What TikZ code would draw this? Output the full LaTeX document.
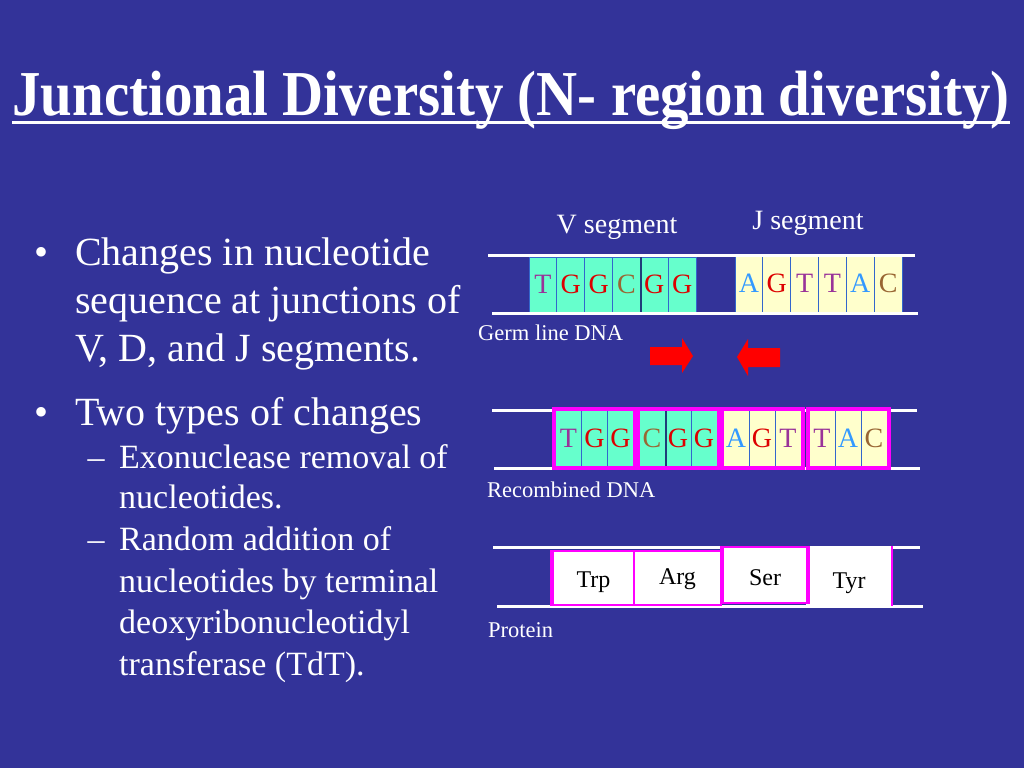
\documentclass[tikz,border=0pt]{standalone}
\usepackage{graphicx}
\usepackage{fontspec}
\setmainfont{Liberation Serif}
\usetikzlibrary{fit}
\definecolor{slideblue}{HTML}{333399}
\definecolor{vcell}{HTML}{66FFCC}
\definecolor{jcell}{HTML}{FFFFCC}
\definecolor{celledge}{HTML}{3366CC}
\definecolor{baseT}{HTML}{993399}
\definecolor{baseG}{HTML}{DD0000}
\definecolor{baseC}{HTML}{996633}
\definecolor{baseA}{HTML}{3399FF}
\definecolor{pinkframe}{HTML}{FF00FF}
\tikzset{
  strand/.style={white, line width=3pt},
  nuc/.style={draw=celledge, line width=1pt, inner sep=0pt, minimum width=27.8pt,
    minimum height=55pt, font=\fontsize{28}{30}\selectfont},
  frame/.style={draw=pinkframe, line width=4pt, inner sep=1pt},
  protbox/.style={fill=white, draw=pinkframe, line width=1.5pt, inner sep=0pt,
    text=black, text depth=0pt, font=\fontsize{24}{28}\selectfont},
  seglabel/.style={anchor=base, inner sep=0pt, text=white, font=\fontsize{28}{32}\selectfont},
  dnalabel/.style={anchor=base west, inner sep=0pt, text=white, font=\fontsize{22.5}{26}\selectfont},
  bodytext/.style={anchor=base west, inner sep=0pt, text=white, font=\fontsize{40}{48}\selectfont},
  subtext/.style={anchor=base west, inner sep=0pt, text=white, font=\fontsize{34}{41}\selectfont}
}
\begin{document}
\begin{tikzpicture}[x=1pt, y=-1pt]
   \fill[slideblue] (0,0) rectangle (1024,768);
   \useasboundingbox (0,0) rectangle (1024,768);
   % title
   \node[anchor=base, inner sep=0pt, text=white] (title) at (511,115)
      {\resizebox{997pt}{\height}{\fontsize{64}{70}\selectfont\bfseries Junctional Diversity (N- region diversity)}};
   \draw[strand] ([yshift=-7pt]title.base west) -- ([yshift=-7pt]title.base east);
   % bullets
   \foreach \y/\t [count=\i] in {265/Changes in nucleotide, 313/sequence at junctions of,
      361/{V, D, and J segments.}, 425/Two types of changes}
      \node[bodytext] (b\i) at (75,\y) {\t};
   \node[bodytext, anchor=base] (dot1) at (42,265) {•};
   \node[bodytext, anchor=base] (dot2) at (42,425) {•};
   \foreach \y/\t [count=\i] in {468/Exonuclease removal of, 508/nucleotides., 550/Random addition of,
      592/nucleotides by terminal, 633/deoxyribonucleotidyl, 675/transferase (TdT).}
      \node[subtext] (s\i) at (119,\y) {\t};
   \node[subtext, anchor=base] (dash1) at (96,468) {–};
   \node[subtext, anchor=base] (dash2) at (96,550) {–};
   % germ line DNA
   \node[seglabel] (vseg) at (617,233) {V segment};
   \node[seglabel] (jseg) at (808,229) {J segment};
   \foreach \b [count=\i] in {T,G,G,C,G,G}
      \node[nuc, fill=vcell, text=base\b] (v\i) at ({543+27.83*(\i-1)},284.5) {\b};
   \foreach \b [count=\i] in {A,G,T,T,A,C}
      \node[nuc, fill=jcell, text=base\b, minimum height=58pt] (j\i) at ({749+27.83*(\i-1)},283) {\b};
   \draw[celledge!60!black, line width=2pt] (v4.north east) -- (v4.south east);
   \draw[strand] (488,255) -- (915,255);
   \draw[strand] (492,313) -- (918,313);
   \node[dnalabel] (germ) at (478,340) {Germ line DNA};
   \fill[red] (650,347) -- (682,347) -- (682,338) -- (693,356) -- (682,373) -- (682,365) -- (650,365) -- cycle;
   \fill[red] (780,348) -- (748,348) -- (748,339) -- (737,357) -- (748,376) -- (748,367) -- (780,367) -- cycle;
   % recombined DNA
   \draw[strand] (492,410) -- (917,410);
   \draw[strand] (494,468) -- (920,468);
   \foreach \b/\x/\c [count=\i] in {T/568.5/vcell, G/594.5/vcell, G/620.5/vcell, C/652/vcell,
      G/678/vcell, G/704/vcell, A/736/jcell, G/762/jcell, T/788/jcell,
      T/822/jcell, A/848/jcell, C/874/jcell}
      \node[nuc, fill=\c, text=base\b, minimum width=26pt, minimum height=56pt] (r\i) at (\x,438) {\b};
   \draw[celledge!60!black, line width=2pt] (r4.north east) -- (r4.south east);
   \foreach \a/\z in {1/3,4/6,7/9,10/12}
      \node[frame, fit=(r\a)(r\z)] (g\a) {};
   \node[dnalabel] (recomb) at (487,497) {Recombined DNA};
   % protein
   \draw[strand] (493,547) -- (920,547);
   \draw[strand] (497,606) -- (923,606);
   \node[protbox, minimum width=81pt, minimum height=54pt, text height=18pt] (trp) at (593.5,578) {Trp};
   \node[protbox, minimum width=87pt, minimum height=54pt, text height=12pt] (arg) at (677.5,578) {Arg};
   \node[protbox, minimum width=84pt, minimum height=56pt, text height=20pt] (ser) at (765,575) {Ser};
   \node[protbox, minimum width=84pt, minimum height=58pt, text height=24pt, draw=white] (tyr) at (849,576) {Tyr};
   \draw[pinkframe, line width=1.5pt] (tyr.north east) -- (tyr.south east);
   \draw[pinkframe, line width=4pt] (trp.north west) -- (trp.south west);
   \draw[pinkframe, line width=4pt] (ser.north west) -- (ser.south west);
   \draw[pinkframe, line width=4pt] (ser.north east) -- (ser.south east);
   \node[dnalabel] (prot) at (488,637) {Protein};
\end{tikzpicture}
\end{document}
